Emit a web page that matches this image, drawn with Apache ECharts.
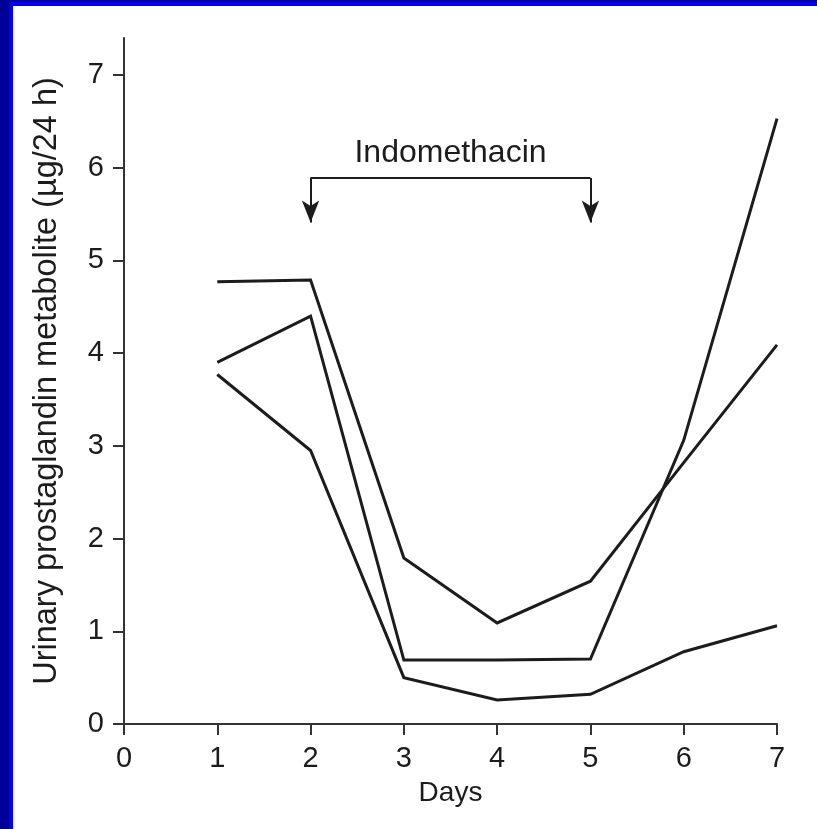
<!DOCTYPE html>
<html>
<head>
<meta charset="utf-8">
<script src="https://cdn.jsdelivr.net/npm/echarts@6/dist/echarts.min.js"></script>
<style>
  html, body { margin: 0; padding: 0; background: #ffffff; }
  #wrap { position: relative; width: 817px; height: 829px; overflow: hidden; background: #ffffff; }
  #chart { position: absolute; left: 0; top: 0; width: 817px; height: 829px; }
  .edge { position: absolute; pointer-events: none; z-index: 5; }
</style>
</head>
<body>
<div id="wrap">
  <div id="chart"></div>
  <!-- slide frame: dark blue band with a bright inner stripe -->
  <div class="edge" style="left:0;top:0;width:817px;height:2px;background:#000099"></div>
  <div class="edge" style="left:0;top:2px;width:817px;height:4px;background:#0000ff"></div>
  <div class="edge" style="left:0;top:0;width:9px;height:829px;background:#000099"></div>
  <div class="edge" style="left:9px;top:2px;width:4px;height:827px;background:#0000ff"></div>
</div>
<script>
// Days of observation
const days = [1, 2, 3, 4, 5, 6, 7];
// Urinary prostaglandin metabolite excretion (µg/24 h), one array per subject
const subjectA = [4.77, 4.79, 1.79, 1.09, 1.54, 2.82, 4.09];
const subjectB = [3.90, 4.40, 0.69, 0.69, 0.70, 3.06, 6.53];
const subjectC = [3.77, 2.95, 0.50, 0.26, 0.32, 0.78, 1.06];
// Axis ticks
const xTicks = [0, 1, 2, 3, 4, 5, 6, 7];
const yTicks = [0, 1, 2, 3, 4, 5, 6, 7];
// Indomethacin treatment window (start day, end day) and bracket heights
const treatment = { label: 'Indomethacin', start: 2, end: 5, barY: 5.89, tipY: 5.41, textY: 6.16 };

const FONT = '"Liberation Sans", Arial, Helvetica, sans-serif';
const INK = '#1c1c1c';

function pairs(values) {
  return days.map((d, i) => [d, values[i]]);
}

function subjectSeries(values) {
  return {
    type: 'line',
    data: pairs(values),
    symbol: 'none',
    lineStyle: { color: INK, width: 3, join: 'miter' },
    silent: true,
    z: 3
  };
}

const chart = echarts.init(document.getElementById('chart'), null, { renderer: 'canvas' });

const bracketSeries = {
  type: 'line',
  data: [],
  silent: true,
  markLine: {
    silent: true,
    animation: false,
    lineStyle: { color: INK, width: 2, type: 'solid' },
    label: { show: false },
    symbol: ['none', 'arrow'],
    symbolSize: [13, 22],
    data: [
      [{ coord: [treatment.start, treatment.barY] }, { coord: [treatment.start, treatment.tipY] }],
      [{ coord: [treatment.start, treatment.barY], symbol: 'none' }, { coord: [treatment.end, treatment.barY], symbol: 'none' }],
      [{ coord: [treatment.end, treatment.barY] }, { coord: [treatment.end, treatment.tipY] }]
    ]
  },
  markPoint: {
    silent: true,
    animation: false,
    symbol: 'circle',
    symbolSize: 0,
    label: {
      show: true,
      position: 'inside',
      formatter: treatment.label,
      color: INK,
      fontFamily: FONT,
      fontSize: 32
    },
    data: [{ coord: [(treatment.start + treatment.end) / 2, treatment.textY] }]
  }
};

chart.setOption({
  animation: false,
  backgroundColor: 'transparent',
  grid: { left: 124, right: 40, top: 38, bottom: 105, containLabel: false },
  xAxis: {
    type: 'value',
    min: 0,
    max: 7,
    interval: 1,
    name: 'Days',
    nameLocation: 'middle',
    nameGap: 55,
    nameTextStyle: { color: INK, fontFamily: FONT, fontSize: 28 },
    axisLine: { show: true, onZero: false, lineStyle: { color: '#333333', width: 2 } },
    axisTick: { show: true, inside: false, length: 11, lineStyle: { color: '#333333', width: 2 }, customValues: xTicks },
    axisLabel: { color: INK, fontFamily: FONT, fontSize: 29, margin: 20, customValues: xTicks },
    splitLine: { show: false }
  },
  yAxis: {
    type: 'value',
    min: 0,
    max: 7.4,
    interval: 1,
    name: 'Urinary prostaglandin metabolite (µg/24 h)',
    nameLocation: 'middle',
    nameGap: 60,
    nameTextStyle: { color: INK, fontFamily: FONT, fontSize: 32.5 },
    axisLine: { show: true, onZero: false, lineStyle: { color: '#333333', width: 2 } },
    axisTick: { show: true, inside: false, length: 11, lineStyle: { color: '#333333', width: 2 }, customValues: yTicks },
    axisLabel: { color: INK, fontFamily: FONT, fontSize: 29, margin: 20, customValues: yTicks },
    splitLine: { show: false }
  },
  series: [
    subjectSeries(subjectA),
    subjectSeries(subjectB),
    subjectSeries(subjectC),
    bracketSeries
  ]
});
</script>
</body>
</html>
